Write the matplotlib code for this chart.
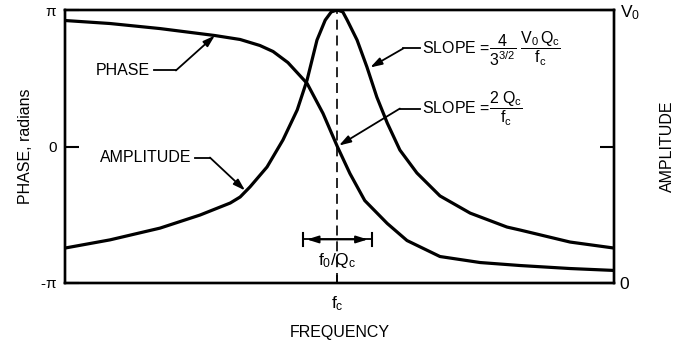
import numpy as np
import matplotlib
matplotlib.use('Agg')
import matplotlib.pyplot as plt

plt.rcParams['font.family'] = ['Liberation Sans', 'DejaVu Sans']
plt.rcParams['mathtext.fontset'] = 'custom'
plt.rcParams['mathtext.rm'] = 'Liberation Sans'
plt.rcParams['mathtext.it'] = 'Liberation Sans'
plt.rcParams['mathtext.bf'] = 'Liberation Sans:bold'

# resonance curves, frequency on a 0..10 scale, fc in the middle
fc = 4.96
bandwidth = 1.26  # f0/Qc

freq_amp = [0.00, 0.82, 1.73, 2.46, 3.01, 3.19, 3.37, 3.68, 3.97, 4.23, 4.41, 4.59, 4.74, 4.85,
            4.96, 5.06, 5.14, 5.32, 5.50, 5.68, 5.87, 6.10, 6.41, 6.83, 7.38, 8.05, 8.29, 9.20, 10.0]
amplitude = [0.128, 0.158, 0.201, 0.249, 0.293, 0.315, 0.352, 0.425, 0.524, 0.634, 0.744, 0.890, 0.963, 0.993,
             1.000, 0.993, 0.963, 0.890, 0.791, 0.681, 0.586, 0.487, 0.403, 0.319, 0.256, 0.205, 0.194, 0.150, 0.128]

freq_phase = [0.00, 0.82, 1.73, 2.73, 3.19, 3.55, 3.79, 4.06, 4.41, 4.70, 4.96,
              5.19, 5.46, 5.87, 6.23, 6.83, 7.56, 8.29, 9.20, 10.0]
phase_pi = [0.923, 0.901, 0.864, 0.813, 0.784, 0.740, 0.696, 0.615, 0.462, 0.242, 0.0,
            -0.198, -0.396, -0.564, -0.689, -0.806, -0.850, -0.872, -0.894, -0.908]

fig = plt.figure(figsize=(6.75, 3.49), dpi=100)
ax = fig.add_axes([65 / 675, 1 - 283 / 349, 549 / 675, 273 / 349])
ax2 = ax.twinx()

lw = 2.3
ax.plot(freq_phase, np.array(phase_pi) * np.pi, color='black', lw=lw, solid_joinstyle='round')
ax2.plot(freq_amp, amplitude, color='black', lw=lw, solid_joinstyle='round')

ax.set_xlim(0, 10)
ax.set_ylim(-np.pi, np.pi)
ax2.set_ylim(0, 1)

# resonance marker
ax.axvline(fc, color='black', lw=1.2, ls=(0, (6, 3.5)))

for a in (ax, ax2):
    for s in a.spines.values():
        s.set_linewidth(1.7)

fs = 11.5
ax.set_yticks([-np.pi, 0, np.pi])
ax.set_yticklabels([r'-$\pi$', '0', r'$\pi$'])
ax.set_xticks([fc])
ax.set_xticklabels([r'$f_c$'])
ax.tick_params(axis='y', direction='in', length=10, width=1.5, labelsize=11, pad=6)
ax.tick_params(axis='x', direction='in', length=6, width=1.2, labelsize=12.5, pad=8)
ax2.set_yticks([0, 0.5, 1])
ax2.set_yticklabels(['0', '', r'$V_0$'])
ax2.tick_params(axis='y', direction='in', length=10, width=1.5, labelsize=12.5, pad=4)

ax.set_ylabel('PHASE, radians', fontsize=fs, labelpad=5)
ax2.set_ylabel('AMPLITUDE', fontsize=fs, labelpad=15)
ax.set_xlabel('FREQUENCY', fontsize=fs, labelpad=9)

P = np.pi
arrow = dict(arrowstyle='-|>,head_length=0.7,head_width=0.22', color='black', lw=1.3,
             shrinkA=0, shrinkB=0)

# PHASE label
ax.text(1.55, 0.557 * P, 'PHASE', fontsize=fs, ha='right', va='center')
ax.plot([1.62, 2.02], [0.557 * P, 0.557 * P], color='black', lw=1.3)
ax.annotate('', xy=(2.73, 0.813 * P), xytext=(2.02, 0.557 * P), arrowprops=arrow)

# AMPLITUDE label
ax.text(2.31, -0.081 * P, 'AMPLITUDE', fontsize=fs, ha='right', va='center')
ax.plot([2.37, 2.64], [-0.081 * P, -0.081 * P], color='black', lw=1.3)
ax.annotate('', xy=(3.28, -0.322 * P), xytext=(2.64, -0.081 * P), arrowprops=arrow)

# slope of the amplitude curve
ax.plot([6.16, 6.47], [0.718 * P, 0.718 * P], color='black', lw=1.3)
ax.annotate('', xy=(5.56, 0.579 * P), xytext=(6.16, 0.718 * P), arrowprops=arrow)
ax.text(6.50, 0.718 * P, r'SLOPE =$\dfrac{4}{3^{3/2}}\ \dfrac{V_0\,Q_c}{f_c}$',
        fontsize=fs, ha='left', va='center')

# slope of the phase curve
ax.plot([6.10, 6.47], [0.278 * P, 0.278 * P], color='black', lw=1.3)
ax.annotate('', xy=(4.99, 0.007 * P), xytext=(6.10, 0.278 * P), arrowprops=arrow)
ax.text(6.50, 0.278 * P, r'SLOPE =$\dfrac{2\ Q_c}{f_c}$', fontsize=fs, ha='left', va='center')

# bandwidth bracket
yb = -0.681 * P
x0, x1 = fc - bandwidth / 2, fc + bandwidth / 2
bracket = dict(arrow, shrinkB=3)
ax.annotate('', xy=(x0, yb), xytext=(fc, yb), arrowprops=bracket)
ax.annotate('', xy=(x1, yb), xytext=(fc, yb), arrowprops=bracket)
ax.plot([x0, x1], [yb, yb], color='black', lw=1.3)
ax.plot([x0, x0], [yb - 0.05 * P, yb + 0.05 * P], color='black', lw=1.5)
ax.plot([x1, x1], [yb - 0.05 * P, yb + 0.05 * P], color='black', lw=1.5)
ax.text(fc, -0.835 * P, r'$f_0/Q_c$', fontsize=12.5, ha='center', va='center')

fig.savefig('out.png', dpi=100)
